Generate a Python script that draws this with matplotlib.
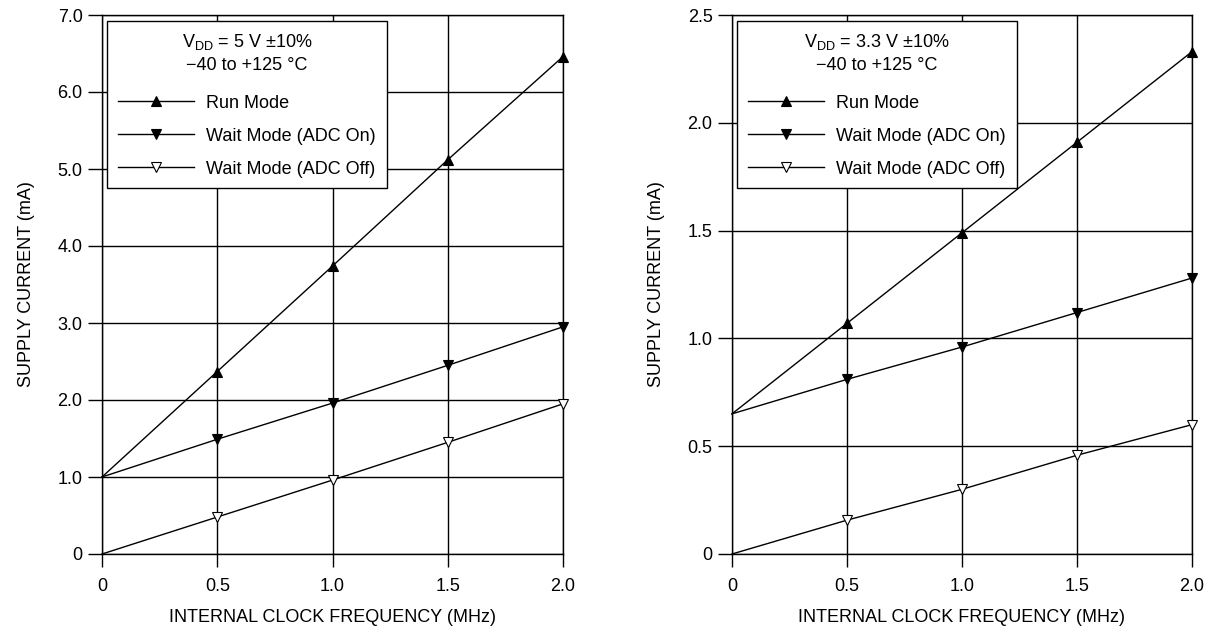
import matplotlib
import matplotlib.pyplot as plt
from matplotlib.lines import Line2D

matplotlib.use("Agg")

plt.rcParams["font.family"] = ["Liberation Sans", "DejaVu Sans"]
plt.rcParams["mathtext.fontset"] = "custom"
plt.rcParams["mathtext.rm"] = "Liberation Sans"

freq = [0, 0.5, 1.0, 1.5, 2.0]
freq_ticks = [0, 0.5, 1.0, 1.5, 2.0]
freq_ticklabels = ["0", "0.5", "1.0", "1.5", "2.0"]

# 5 V panel
run_5v = [1.0, 2.37, 3.74, 5.12, 6.46]
wait_on_5v = [1.0, 1.49, 1.96, 2.45, 2.95]
wait_off_5v = [0.0, 0.48, 0.96, 1.45, 1.95]
yticks_5v = [0, 1, 2, 3, 4, 5, 6, 7]
yticklabels_5v = ["0", "1.0", "2.0", "3.0", "4.0", "5.0", "6.0", "7.0"]

# 3.3 V panel
run_3v = [0.65, 1.07, 1.49, 1.91, 2.33]
wait_on_3v = [0.65, 0.81, 0.96, 1.12, 1.28]
wait_off_3v = [0.0, 0.157, 0.30, 0.458, 0.60]
yticks_3v = [0, 0.5, 1.0, 1.5, 2.0, 2.5]
yticklabels_3v = ["0", "0.5", "1.0", "1.5", "2.0", "2.5"]

series_labels = ["Run Mode", "Wait Mode (ADC On)", "Wait Mode (ADC Off)"]
series_markers = ["^", "v", "v"]
series_faces = ["black", "black", "white"]

FS = 13


def draw_panel(ax, series, yticks, yticklabels, ymax, title):
    for ys, lab, mk, fc in zip(series, series_labels, series_markers, series_faces):
        ax.plot(freq, ys, color="black", lw=1, marker=mk, ms=7.5, mfc=fc, mec="black",
                mew=0.8, markevery=slice(1, None), label=lab, clip_on=False, zorder=3)
    ax.set_xlim(0, 2.0)
    ax.set_ylim(0, ymax)
    ax.set_xticks(freq_ticks)
    ax.set_xticklabels(freq_ticklabels)
    ax.set_yticks(yticks)
    ax.set_yticklabels(yticklabels)
    ax.grid(True, color="black", lw=1)
    ax.set_axisbelow(True)
    for sp in ax.spines.values():
        sp.set_color("black")
        sp.set_linewidth(1)
    ax.tick_params(axis="y", direction="out", length=10, width=1, labelsize=FS, pad=4)
    ax.tick_params(axis="x", direction="out", length=9, width=1, labelsize=FS, pad=8)
    ax.set_xlabel("INTERNAL CLOCK FREQUENCY (MHz)", fontsize=FS, labelpad=10)
    ax.set_ylabel("SUPPLY CURRENT (mA)", fontsize=FS, labelpad=16)

    handles = [Line2D([0], [0], color="black", lw=1, marker=mk, ms=7.5, mfc=fc,
                      mec="black", mew=0.8)
               for mk, fc in zip(series_markers, series_faces)]
    leg = ax.legend(handles, series_labels, loc="upper left", bbox_to_anchor=(0.011, 0.989),
                    title=title, fontsize=FS, title_fontsize=FS, fancybox=False,
                    edgecolor="black", framealpha=1, handlelength=4.2, handletextpad=0.7,
                    borderpad=0.6, labelspacing=0.88, borderaxespad=0)
    leg.get_frame().set_linewidth(1)
    leg.get_title().set_multialignment("center")
    leg.get_title().set_linespacing(1.4)
    leg._legend_box.sep = 15
    leg.set_zorder(5)


fig = plt.figure(figsize=(12.13, 6.37), dpi=100)
ax1 = fig.add_axes([102 / 1213, 83 / 637, 461 / 1213, 539 / 637])
ax2 = fig.add_axes([732 / 1213, 83 / 637, 460 / 1213, 539 / 637])

draw_panel(ax1, [run_5v, wait_on_5v, wait_off_5v], yticks_5v, yticklabels_5v, 7.0,
           "V$_{\\rm DD}$ = 5 V \u00b110%\n\u221240 to +125 \u00b0C")
draw_panel(ax2, [run_3v, wait_on_3v, wait_off_3v], yticks_3v, yticklabels_3v, 2.5,
           "V$_{\\rm DD}$ = 3.3 V \u00b110%\n\u221240 to +125 \u00b0C")

fig.savefig("out.png", dpi=100, facecolor="white")
